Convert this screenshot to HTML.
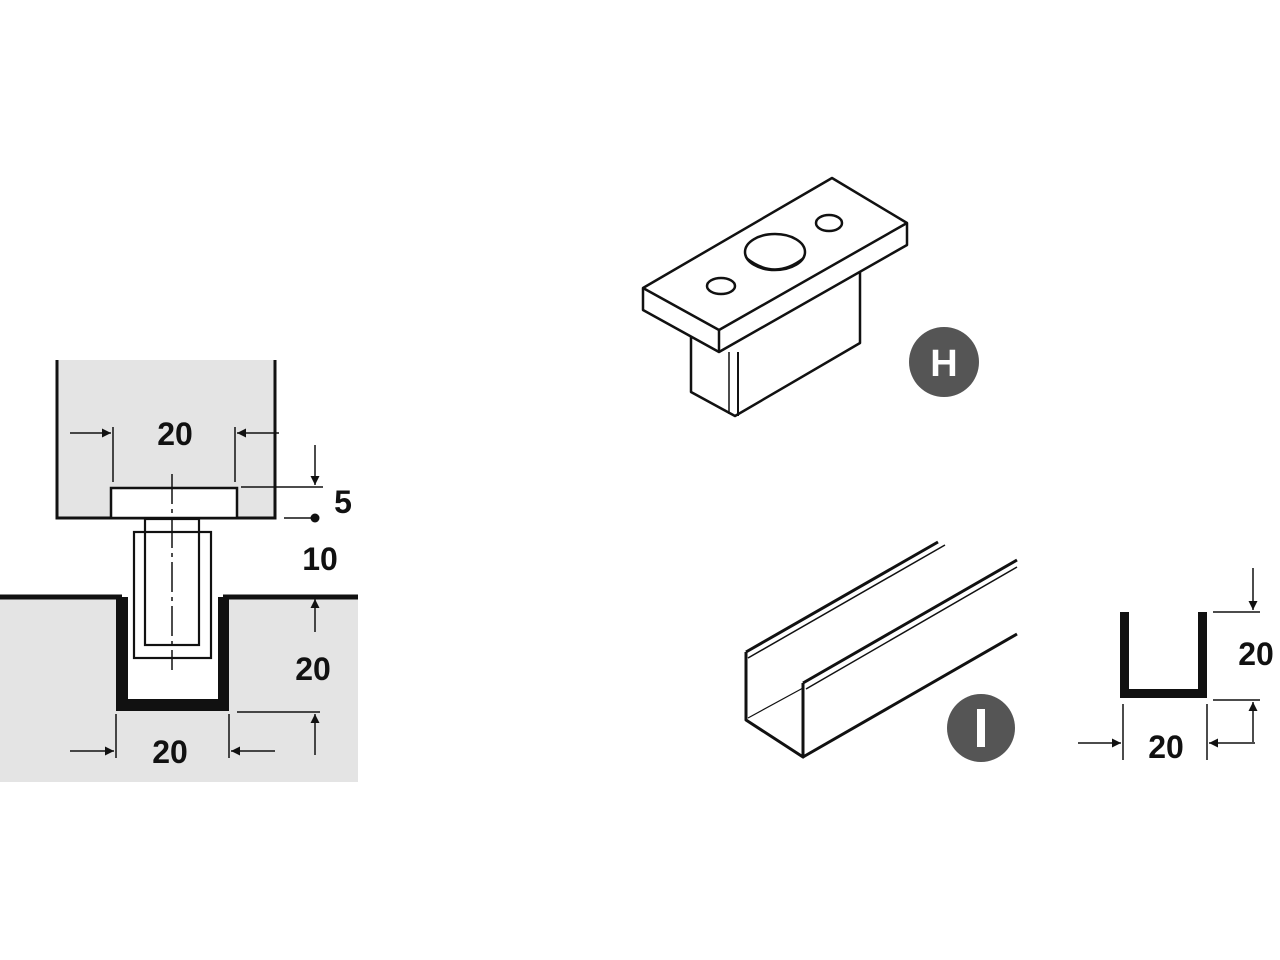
<!DOCTYPE html>
<html><head><meta charset="utf-8"><style>
html,body{margin:0;padding:0;background:#fff}
svg{display:block}
text{font-family:"Liberation Sans",Arial,sans-serif;font-weight:bold;fill:#111}
</style></head><body>
<svg width="1280" height="960" viewBox="0 0 1280 960" xmlns="http://www.w3.org/2000/svg">
<defs>
<marker id="ar" viewBox="0 0 10 10" refX="10" refY="5" markerWidth="16" markerHeight="9" markerUnits="userSpaceOnUse" orient="auto"><path d="M0,0 L10,5 L0,10 z" fill="#111"/></marker>
</defs>
<!-- Left diagram -->
<rect x="56" y="360" width="219" height="159" fill="#e4e4e4"/>
<path d="M0,597 H358 V782 H0 Z" fill="#e4e4e4"/>
<path d="M57,360 V518 H275 V360" fill="none" stroke="#111" stroke-width="3"/>
<rect x="111" y="488" width="126" height="30" fill="#fff" stroke="#111" stroke-width="2.5"/>
<!-- groove -->
<path d="M116,597 H229 V711 H116 Z" fill="#111"/>
<rect x="128" y="597" width="90" height="102" fill="#fff"/>
<line x1="0" y1="597" x2="122" y2="597" stroke="#111" stroke-width="5"/>
<line x1="223" y1="597" x2="358" y2="597" stroke="#111" stroke-width="5"/>
<!-- stem -->
<rect x="145" y="519" width="54" height="126" fill="#fff" stroke="#111" stroke-width="2.2"/>
<rect x="134" y="532" width="77" height="126" fill="none" stroke="#111" stroke-width="2.2"/>
<line x1="172" y1="474" x2="172" y2="670" stroke="#111" stroke-width="1.5" stroke-dasharray="30,5,4,5"/>
<!-- dims top -->
<line x1="113" y1="427" x2="113" y2="482" stroke="#111" stroke-width="1.5"/>
<line x1="235" y1="427" x2="235" y2="482" stroke="#111" stroke-width="1.5"/>
<line x1="70" y1="433" x2="111" y2="433" stroke="#111" stroke-width="1.5" marker-end="url(#ar)"/>
<line x1="279" y1="433" x2="237" y2="433" stroke="#111" stroke-width="1.5" marker-end="url(#ar)"/>
<text x="175" y="445" font-size="32" text-anchor="middle">20</text>
<line x1="241" y1="487" x2="323" y2="487" stroke="#111" stroke-width="1.5"/>
<line x1="315" y1="445" x2="315" y2="485" stroke="#111" stroke-width="1.5" marker-end="url(#ar)"/>
<line x1="284" y1="518" x2="314" y2="518" stroke="#111" stroke-width="1.5"/>
<circle cx="315" cy="518" r="4.5" fill="#111"/>
<text x="343" y="513" font-size="32" text-anchor="middle">5</text>
<text x="320" y="570" font-size="32" text-anchor="middle">10</text>
<line x1="315" y1="632" x2="315" y2="599" stroke="#111" stroke-width="1.5" marker-end="url(#ar)"/>
<text x="313" y="680" font-size="32" text-anchor="middle">20</text>
<line x1="237" y1="712" x2="320" y2="712" stroke="#111" stroke-width="1.5"/>
<line x1="315" y1="755" x2="315" y2="714" stroke="#111" stroke-width="1.5" marker-end="url(#ar)"/>
<line x1="116" y1="714" x2="116" y2="758" stroke="#111" stroke-width="1.5"/>
<line x1="229" y1="714" x2="229" y2="758" stroke="#111" stroke-width="1.5"/>
<line x1="70" y1="751" x2="114" y2="751" stroke="#111" stroke-width="1.5" marker-end="url(#ar)"/>
<line x1="275" y1="751" x2="231" y2="751" stroke="#111" stroke-width="1.5" marker-end="url(#ar)"/>
<text x="170" y="763" font-size="32" text-anchor="middle">20</text>

<!-- H part -->
<g fill="#fff" stroke="#111" stroke-width="2.5" stroke-linejoin="round">
<path d="M691,337 V392 L735,416 L860,343 V272 L691,337 Z"/>
<line x1="729" y1="352" x2="729" y2="414" stroke-width="1.5"/>
<line x1="738" y1="352" x2="738" y2="416" stroke-width="2"/>
<path d="M643,288 L832,178 L907,223 L907,245 L719,352 L643,310 Z"/>
<path d="M643,288 L719,330 L907,223" fill="none"/>
<line x1="719" y1="330" x2="719" y2="352"/>
<ellipse cx="775" cy="252" rx="30" ry="18"/>
<path d="M747,258 Q775,280 803,258" fill="none" stroke-width="1.5"/>
<ellipse cx="721" cy="286" rx="14" ry="8"/>
<ellipse cx="829" cy="223" rx="13" ry="8"/>
</g>
<circle cx="944" cy="362" r="35" fill="#555"/>
<text x="944" y="376" font-size="38" text-anchor="middle" style="fill:#fff">H</text>

<!-- I channel -->
<g fill="none" stroke="#111" stroke-linejoin="round">
<path d="M746,652 V720 L803,757 V683" stroke-width="3"/>
<line x1="803" y1="757" x2="1017" y2="634" stroke-width="3"/>
<line x1="746" y1="652" x2="938" y2="542" stroke-width="3"/>
<line x1="748" y1="658" x2="945" y2="545" stroke-width="1.5"/>
<line x1="803" y1="683" x2="1017" y2="560" stroke-width="3"/>
<line x1="806" y1="689" x2="1017" y2="567" stroke-width="1.5"/>
<line x1="748" y1="718" x2="803" y2="688" stroke-width="1.2"/>
</g>
<circle cx="981" cy="728" r="34" fill="#555"/>
<rect x="977" y="709" width="8" height="38" fill="#fff"/>

<!-- U profile -->
<path d="M1120,612 H1129 V689 H1198 V612 H1207 V698 H1120 Z" fill="#111"/>
<line x1="1213" y1="612" x2="1260" y2="612" stroke="#111" stroke-width="1.5"/>
<line x1="1253" y1="568" x2="1253" y2="610" stroke="#111" stroke-width="1.5" marker-end="url(#ar)"/>
<text x="1256" y="665" font-size="32" text-anchor="middle">20</text>
<line x1="1213" y1="700" x2="1260" y2="700" stroke="#111" stroke-width="1.5"/>
<line x1="1253" y1="742" x2="1253" y2="702" stroke="#111" stroke-width="1.5" marker-end="url(#ar)"/>
<line x1="1123" y1="704" x2="1123" y2="760" stroke="#111" stroke-width="1.5"/>
<line x1="1207" y1="704" x2="1207" y2="760" stroke="#111" stroke-width="1.5"/>
<line x1="1078" y1="743" x2="1121" y2="743" stroke="#111" stroke-width="1.5" marker-end="url(#ar)"/>
<line x1="1255" y1="743" x2="1209" y2="743" stroke="#111" stroke-width="1.5" marker-end="url(#ar)"/>
<text x="1166" y="758" font-size="32" text-anchor="middle">20</text>
</svg>
</body></html>
